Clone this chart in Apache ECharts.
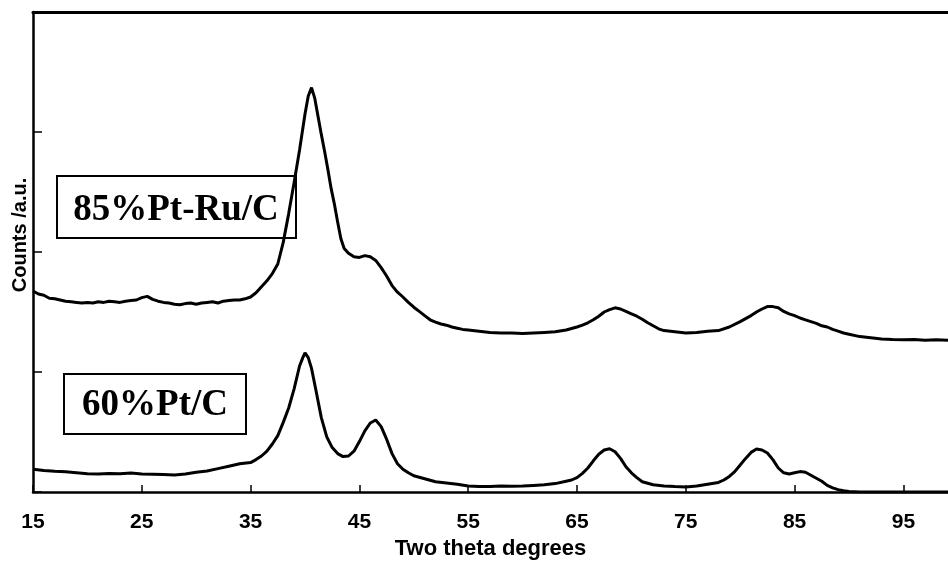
<!DOCTYPE html>
<html>
<head>
<meta charset="utf-8">
<script src="https://cdn.jsdelivr.net/npm/echarts@6/dist/echarts.min.js"></script>
<style>html,body{margin:0;padding:0;background:#fff;}#chart{width:948px;height:562px;}</style>
</head>
<body>
<div id="chart"></div>
<script>
// Two theta (degrees) and counts (a.u.) for the 85%Pt-Ru/C pattern
var theta85 = [15.0,15.5,16.0,16.5,17.0,17.5,18.0,18.5,19.0,19.5,20.0,20.5,21.0,21.5,22.0,22.5,23.0,23.5,24.0,24.5,25.0,25.5,26.0,26.5,27.0,27.5,28.0,28.5,29.0,29.5,30.0,30.5,31.0,31.5,32.0,32.5,33.0,33.5,34.0,34.5,35.0,35.5,36.0,36.5,37.0,37.5,38.0,38.5,39.0,39.5,40.0,40.3,40.6,40.9,41.2,41.5,41.8,42.1,42.4,42.7,43.0,43.3,43.6,44.0,44.5,45.0,45.5,46.0,46.5,47.0,47.5,48.0,48.5,49.0,49.5,50.0,50.5,51.0,51.5,52.0,52.5,53.0,53.5,54.0,54.5,55.0,56,57,58,59,60,61,62,63,64,65,65.5,66,66.5,67,67.5,68,68.5,69,69.5,70,70.5,71,71.5,72,72.5,73,74,75,76,77,78,79,80,80.5,81,81.5,82,82.5,83,83.5,84,84.5,85,85.5,86,86.5,87,87.5,88,88.5,89,89.5,90,91,92,93,94,95,96,97,98,99.1];
var counts85 = [1675,1650,1640,1615,1610,1600,1590,1585,1580,1575,1580,1575,1585,1580,1590,1585,1580,1590,1595,1600,1620,1630,1605,1590,1580,1575,1565,1560,1570,1575,1565,1575,1580,1585,1575,1590,1595,1600,1600,1610,1625,1660,1710,1760,1820,1900,2080,2320,2580,2850,3150,3300,3370,3280,3130,2980,2840,2690,2530,2400,2250,2110,2030,1990,1960,1955,1970,1960,1930,1870,1800,1720,1665,1625,1580,1540,1505,1470,1435,1415,1400,1390,1375,1365,1355,1350,1340,1330,1325,1325,1320,1325,1330,1335,1350,1375,1390,1410,1435,1465,1500,1520,1535,1525,1505,1485,1465,1440,1410,1385,1360,1345,1335,1325,1330,1340,1345,1375,1420,1445,1470,1500,1525,1545,1545,1535,1505,1485,1470,1450,1435,1420,1405,1385,1375,1355,1340,1325,1315,1295,1285,1275,1270,1268,1270,1265,1268,1265];

// Two theta (degrees) and counts (a.u.) for the 60%Pt/C pattern
var theta60 = [15,16,17,18,19,20,21,22,23,24,25,26,27,28,29,30,31,32,33,34,35,35.5,36,36.5,37,37.5,38,38.5,39,39.5,39.8,40.0,40.3,40.6,41.0,41.5,42.0,42.5,43.0,43.5,44.0,44.5,45.0,45.5,46.0,46.5,47.0,47.5,48.0,48.5,49,49.5,50,51,52,53,54,55,56,57,58,59,60,61,62,63,64,64.5,65,65.5,66,66.5,67,67.5,68,68.5,69,69.5,70,70.5,71,72,73,74,75,76,77,78,78.5,79,79.5,80,80.5,81,81.5,82,82.5,83,83.5,84,84.5,85,85.5,86,86.5,87,87.5,88,88.5,89,89.5,90,91,93,95,97,99.1];
var counts60 = [190,180,172,168,160,152,150,155,152,158,150,148,145,142,150,165,175,195,215,235,245,270,300,340,400,470,580,700,860,1050,1120,1160,1120,1030,850,620,460,370,320,295,300,340,420,510,575,600,545,440,320,235,190,160,135,110,85,75,65,50,45,45,50,48,50,55,60,70,90,100,120,155,200,260,315,350,360,335,280,210,160,120,85,60,50,45,42,50,65,80,100,130,170,225,280,330,358,350,325,270,200,160,150,160,170,165,140,115,90,55,35,20,10,5,0,0,0,0,0];

var xTickMin = 15, xTickStep = 10, xMax = 99.1;
var yMax = 4000, yStep = 1000;

function pairs(xs, ys) { return xs.map(function (x, i) { return [x, ys[i]]; }); }

var chart = echarts.init(document.getElementById('chart'), null, { renderer: 'canvas' });
var sans = '"Liberation Sans", Arial, sans-serif';
var serif = '"Liberation Serif", "Times New Roman", serif';

chart.setOption({
  animation: false,
  backgroundColor: '#fff',
  grid: { left: 33, right: 0, top: 12, bottom: 70, containLabel: false, outerBoundsMode: 'none' },
  xAxis: [{
    type: 'value', min: xTickMin, max: xMax, interval: xTickStep,
    name: 'Two theta degrees', nameLocation: 'middle', nameGap: 46,
    nameTextStyle: { fontFamily: sans, fontWeight: 'bold', fontSize: 22, color: '#000' },
    axisLine: { show: true, onZero: false, lineStyle: { color: '#000', width: 2.5 } },
    axisTick: { show: true, inside: true, length: 7, lineStyle: { color: '#000', width: 1.5 } },
    axisLabel: { show: true, margin: 20, showMaxLabel: false, fontFamily: sans, fontWeight: 'bold', fontSize: 21, color: '#000',
      formatter: function (v) { return ((v - xTickMin) % xTickStep === 0) ? String(v) : ''; } },
    splitLine: { show: false }
  }, {
    type: 'value', position: 'top', min: xTickMin, max: xMax,
    axisLine: { show: true, onZero: false, lineStyle: { color: '#000', width: 3 } },
    axisTick: { show: false }, axisLabel: { show: false }, splitLine: { show: false }
  }],
  yAxis: {
    type: 'value', min: 0, max: yMax, interval: yStep,
    name: 'Counts /a.u.', nameLocation: 'middle', nameGap: 3,
    nameTextStyle: { fontFamily: sans, fontWeight: 'bold', fontSize: 20, color: '#000', padding: [0, 0, 0, 34] },
    axisLine: { show: true, onZero: false, lineStyle: { color: '#000', width: 2.5 } },
    axisTick: { show: true, inside: true, length: 9, lineStyle: { color: '#000', width: 1.5 } },
    axisLabel: { show: false },
    splitLine: { show: false }
  },
  series: [{
    name: '85%Pt-Ru/C', type: 'line', data: pairs(theta85, counts85),
    showSymbol: false, symbol: 'none', lineStyle: { color: '#000', width: 3 }, z: 3
  }, {
    name: '60%Pt/C', type: 'line', data: pairs(theta60, counts60),
    showSymbol: false, symbol: 'none', lineStyle: { color: '#000', width: 3 }, z: 3
  }],
  graphic: [
    { type: 'rect', shape: { x: 57, y: 176, width: 239, height: 62 }, style: { fill: 'none', stroke: '#000', lineWidth: 2 } },
    { type: 'text', x: 176, y: 210, style: { text: '85%Pt-Ru/C', font: 'bold 37px ' + serif, fill: '#000', align: 'center', verticalAlign: 'middle', textAlign: 'center', textVerticalAlign: 'middle' } },
    { type: 'rect', shape: { x: 64, y: 374, width: 182, height: 60 }, style: { fill: 'none', stroke: '#000', lineWidth: 2 } },
    { type: 'text', x: 155, y: 405, style: { text: '60%Pt/C', font: 'bold 37px ' + serif, fill: '#000', align: 'center', verticalAlign: 'middle', textAlign: 'center', textVerticalAlign: 'middle' } }
  ]
});
</script>
</body>
</html>
